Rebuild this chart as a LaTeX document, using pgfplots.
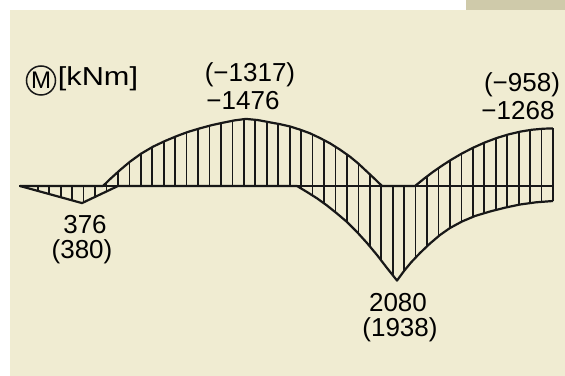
\documentclass[border=0pt]{standalone}
\usepackage{fontspec}
\setmainfont{Liberation Sans}
\usepackage{pgfplots}
\pgfplotsset{compat=1.18}
\usepackage{pgfplotstable}

\definecolor{paper}{RGB}{240,236,210}
\definecolor{tab}{RGB}{207,202,170}
\definecolor{ink}{RGB}{24,24,24}
\newcommand\lbl{\fontsize{26}{30}\selectfont}

% upper boundary of the moment envelope (hogging side), x in drawing units, M in kNm
\pgfplotstableread{
x U
20 0
103 0
110 -150
120 -350
130 -535
141 -710
153 -865
165 -990
177 -1100
188 -1190
200 -1269
212 -1340
223 -1393
235 -1445
246 -1476
258 -1450
270 -1400
280 -1360
290 -1310
300 -1240
310 -1159
320 -1055
330 -939
340 -800
350 -645
358 -500
367 -315
375 -150
382 0
415 0
424 -160
433 -310
442 -447
451 -575
462 -716
473 -841
485 -959
497 -1058
509 -1138
521 -1199
532 -1238
543 -1260
553 -1268
}\envupper

% lower boundary (sagging side)
\pgfplotstableread{
x L
20 0
82 376
118 0
297 0
307 132
317 271
327 429
337 605
347 792
357 1012
367 1254
377 1518
387 1804
397 2080
404 1870
411 1683
420 1474
430 1265
440 1078
450 924
462 781
475 660
490 561
505 477
520 407
536 359
553 330
}\envlower

% hatching ordinates between the two boundaries
\pgfplotstableread{
x U L
26.3 0 38
37.75 0 108
49.2 0 177
60.65 0 247
72.1 0 316
83.55 0 360
95.0 0 240
106.45 -74 121
117.9 -308 0
129.35 -523 0
140.8 -707 0
152.25 -855 0
163.7 -976 0
175.15 -1083 0
186.6 -1179 0
198.05 -1256 0
209.5 -1325 0
220.95 -1383 0
232.4 -1434 0
243.85 -1470 0
255.3 -1456 0
266.75 -1414 0
278.2 -1367 0
289.65 -1312 0
301.1 -1231 54
312.55 -1132 208
324.0 -1009 382
335.45 -863 578
346.9 -693 790
358.35 -493 1045
369.8 -257 1328
381.25 -16 1640
392.7 0 1961
404.15 0 1866
415.6 -11 1576
427.05 -211 1327
438.5 -394 1106
449.95 -560 925
461.4 -708 788
472.85 -839 680
484.3 -952 599
495.75 -1048 529
507.2 -1126 467
518.65 -1187 413
530.1 -1234 377
541.55 -1257 350
553 -1268 330
}\hatchtab

\begin{document}
\begin{tikzpicture}
\begin{axis}[
  width=565pt, height=376pt, scale only axis,
  xmin=0, xmax=565, ymin=-4092, ymax=4180, y dir=reverse,
  hide axis, clip=false,
  every node/.append style={text=ink, inner sep=0pt},
]
  % sheet
  \fill[white] (axis cs:0,-4092) rectangle (axis cs:565,4180);
  \fill[paper] (axis cs:9.5,-3872) rectangle (axis cs:565,4180);
  \fill[tab] (axis cs:466,-4092) rectangle (axis cs:565,-3872);

  % hatching
  \addplot[ycomb, draw=ink, line width=1.7pt, mark=none] table[x=x, y=U] {\hatchtab};
  \addplot[ycomb, draw=ink, line width=1.7pt, mark=none] table[x=x, y=L] {\hatchtab};

  % reference axis
  \addplot[draw=ink, line width=2.2pt, mark=none] coordinates {(19,0) (553,0)};

  % envelope
  \addplot[draw=ink, line width=2.2pt, mark=none, line join=round] table[x=x, y=U] {\envupper};
  \addplot[draw=ink, line width=2.2pt, mark=none, line join=round] table[x=x, y=L] {\envlower};
  \addplot[draw=ink, line width=2.2pt, mark=none] coordinates {(553,-1268) (553,330)};

  % labels
  \draw[ink, line width=1.5pt] (axis cs:41,-2321) circle[radius=14.5pt];
  \node[font=\fontsize{24}{27}\selectfont] at (axis cs:41,-2321) {M};
  \node[anchor=base, font=\lbl] at (axis cs:98,-2200) {\scalebox{1.18}[1]{[kNm]}};

  \node[anchor=base, font=\lbl] at (axis cs:250,-2295) {(−1317)};
  \node[anchor=base, font=\lbl] at (axis cs:243,-1672) {−1476};
  \node[anchor=base, font=\lbl] at (axis cs:522,-2068) {(−958)};
  \node[anchor=base, font=\lbl] at (axis cs:518,-1452) {−1268};
  \node[anchor=base, font=\lbl] at (axis cs:85,1056) {376};
  \node[anchor=base, font=\lbl] at (axis cs:82,1606) {(380)};
  \node[anchor=base, font=\lbl] at (axis cs:398,2765) {2080};
  \node[anchor=base, font=\lbl] at (axis cs:400,3311) {(1938)};
\end{axis}
\end{tikzpicture}
\end{document}
